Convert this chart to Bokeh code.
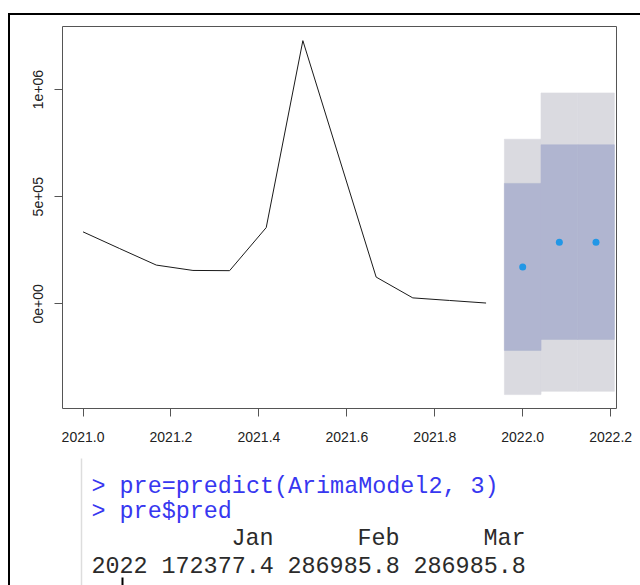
from bokeh.plotting import figure
from bokeh.layouts import column
from bokeh.models import FixedTicker, PrintfTickFormatter, Range1d
from bokeh.core.properties import value
from bokeh.embed import file_html
from bokeh.resources import INLINE

# ---- data ----
hist_t = [2021 + i / 12 for i in range(12)]
hist_v = [336000, 258000, 181000, 156000, 155000, 356000,
          1228000, 676000, 125000, 28000, 16000, 4000]

fc_t = [2022.0, 2022 + 1 / 12, 2022 + 2 / 12]
fc_v = [172377.4, 286985.8, 286985.8]
lo80 = [-217000, -166000, -166000]
hi80 = [562000, 742000, 742000]
lo95 = [-423000, -408000, -408000]
hi95 = [768000, 984000, 984000]

x_ticks = [2021.0, 2021.2, 2021.4, 2021.6, 2021.8, 2022.0, 2022.2]
y_ticks = [0, 500000, 1000000]
y_tick_labels = {0: "0e+00", 500000: "5e+05", 1000000: "1e+06"}

fc_year = "2022"
fc_months = ["Jan", "Feb", "Mar"]
cmd_lines = ["> pre=predict(ArimaModel2, 3)", "> pre$pred"]

# ---- main plot ----
p = figure(width=630, height=435,
           x_range=Range1d(2020.9533, 2022.2133),
           y_range=Range1d(-488000, 1294000),
           output_backend="svg", toolbar_location=None,
           min_border_left=52, min_border_right=24,
           min_border_top=11, min_border_bottom=42)
p.grid.visible = False
p.outline_line_color = "#555555"
p.outline_line_width = 1
p.background_fill_color = "white"
p.border_fill_color = "white"

bw = 1 / 12
p.vbar(x=fc_t, width=bw, top=hi95, bottom=lo95,
       fill_color="#DADAE0", line_color="#DADAE0", line_width=0.6)
p.vbar(x=fc_t, width=bw, top=hi80, bottom=lo80,
       fill_color="#B0B5D0", line_color="#B0B5D0", line_width=0.6)
p.line(hist_t, hist_v, line_color="#1a1a1a", line_width=1)
p.scatter(fc_t, fc_v, size=7, fill_color="#2297E6", line_color=None)

for ax in (p.xaxis[0], p.yaxis[0]):
    ax.axis_line_color = None
    ax.major_tick_in = 0
    ax.major_tick_out = 8
    ax.major_tick_line_color = "#555555"
    ax.minor_tick_line_color = None
    ax.major_label_text_font = "Liberation Sans"
    ax.major_label_text_font_size = "14px"
    ax.major_label_text_color = "#222222"

p.xaxis.ticker = FixedTicker(ticks=x_ticks)
p.xaxis.formatter = PrintfTickFormatter(format="%.1f")
p.xaxis.major_label_standoff = 15
p.yaxis.ticker = FixedTicker(ticks=y_ticks)
p.yaxis.major_label_overrides = y_tick_labels
p.yaxis.major_label_orientation = "vertical"
p.yaxis.major_label_standoff = 11

# ---- console panel (frame aligned with the plot frame: page x 62..616) ----
c = figure(width=630, height=135,
           x_range=Range1d(62, 616), y_range=Range1d(585, 450),
           output_backend="svg", toolbar_location=None,
           min_border_left=52, min_border_right=24,
           min_border_top=0, min_border_bottom=0)
c.axis.visible = False
c.grid.visible = False
c.outline_line_color = None
c.border_fill_color = "white"

c.segment(x0=[81], y0=[458], x1=[81], y1=[585], line_color="#dddddd", line_width=1.5)
c.segment(x0=[122], y0=[577], x1=[122], y1=[585], line_color="black", line_width=2)

x0 = 91
pitch = 14.0
mono = value("Liberation Mono")
c.text(x=[x0, x0], y=[486, 511], text=cmd_lines, text_font=mono,
       text_font_size="23.4px", text_color="#3737f0",
       text_align="left", text_baseline="middle")

row3_cols = [10, 19, 28]
c.text(x=[x0 + k * pitch for k in row3_cols], y=[538] * 3, text=fc_months,
       text_font=mono, text_font_size="23.4px", text_color="#2b2b2b",
       text_align="left", text_baseline="middle")
row4_text = [fc_year] + [f"{v:.1f}" for v in fc_v]
row4_cols = [0, 5, 14, 23]
c.text(x=[x0 + k * pitch for k in row4_cols], y=[564] * 4, text=row4_text,
       text_font=mono, text_font_size="23.4px", text_color="#2b2b2b",
       text_align="left", text_baseline="middle")

layout = column(p, c, margin=(13, 0, 0, 8), spacing=0,
                styles={"border-left": "2px solid black",
                        "border-top": "2px solid black"})

open("out.html", "w").write(file_html(layout, INLINE))
